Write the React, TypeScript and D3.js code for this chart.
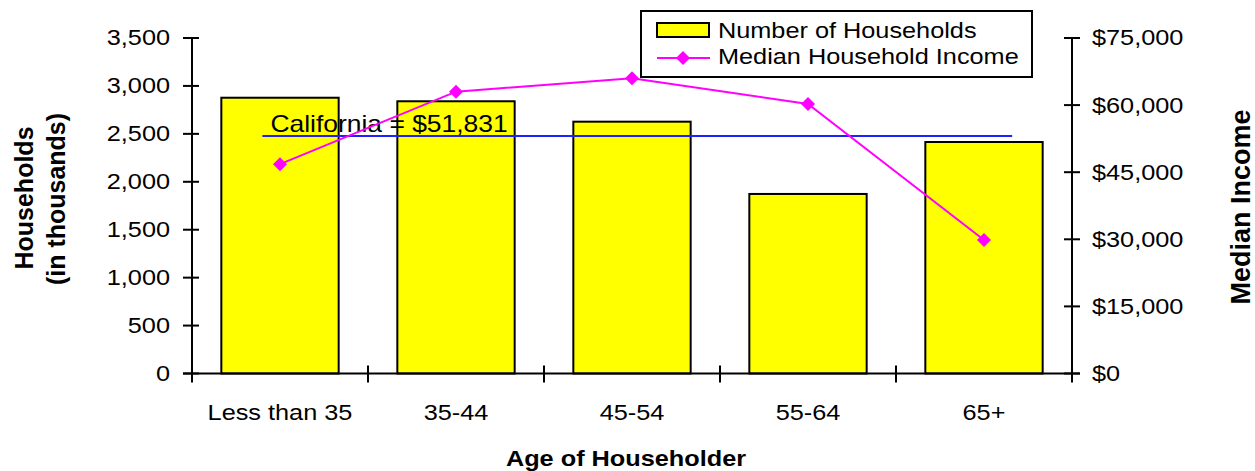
import React from "react";
import * as d3 from "d3";

const categories = ["Less than 35", "35-44", "45-54", "55-64", "65+"];
const households = [2877, 2840, 2627, 1873, 2415];
const medianIncome = [46800, 63000, 66000, 60250, 29850];
const householdTicks = [0, 500, 1000, 1500, 2000, 2500, 3000, 3500];
const incomeTicks = [0, 15000, 30000, 45000, 60000, 75000];
const californiaLevel = 53100;
const californiaLabel = "California = $51,831";
const californiaSpan = [0.4, 4.66];

const W = 1255;
const H = 471;
const M = { left: 192, right: 1072, top: 38, bottom: 373.5 };
const FONT = "'Liberation Sans', Arial, sans-serif";
const SX = 1.15;

function T(props: any) {
  const { x, y, size = 22, anchor = "start", weight = "normal", children, baseline } = props;
  return (
    <text
      transform={`translate(${x},${y}) scale(${SX},1)`}
      textAnchor={anchor}
      fontSize={size}
      fontWeight={weight}
      fontFamily={FONT}
      dominantBaseline={baseline}
      fill="#000"
    >
      {children}
    </text>
  );
}

export default function App() {
  const x = d3.scaleBand<string>().domain(categories).range([M.left, M.right]).padding(0);
  const xIdx = d3.scaleLinear().domain([0, categories.length]).range([M.left, M.right]);
  const yL = d3.scaleLinear().domain([0, 3500]).range([M.bottom, M.top]);
  const yR = d3.scaleLinear().domain([0, 75000]).range([M.bottom, M.top]);
  const bw = x.bandwidth() / 1.5;
  const cx = (c: string) => (x(c) as number) + x.bandwidth() / 2;

  const line = d3
    .line<number>()
    .x((_, i) => cx(categories[i]))
    .y((d) => yR(d));

  const diamond = (px: number, py: number, r = 7) =>
    `M${px},${py - r}L${px + r},${py}L${px},${py + r}L${px - r},${py}Z`;

  const cy = yR(californiaLevel);

  return (
    <svg
      width={W}
      height={H}
      style={{ position: "absolute", left: 0, top: 0, background: "#fff" }}
    >
      {/* bars */}
      {categories.map((c, i) => (
        <rect
          key={c}
          x={cx(c) - bw / 2}
          y={yL(households[i])}
          width={bw}
          height={yL(0) - yL(households[i])}
          fill="#ffff00"
          stroke="#000"
          strokeWidth={2}
        />
      ))}

      {/* California line */}
      <line
        x1={xIdx(californiaSpan[0])}
        x2={xIdx(californiaSpan[1])}
        y1={cy}
        y2={cy}
        stroke="#2020ff"
        strokeWidth={2}
      />
      <T x={xIdx(californiaSpan[0]) + 8} y={cy - 4} size={23}>
        {californiaLabel}
      </T>

      {/* income line */}
      <path d={line(medianIncome) || ""} fill="none" stroke="#ff00ff" strokeWidth={2} />
      {medianIncome.map((v, i) => (
        <path key={i} d={diamond(cx(categories[i]), yR(v))} fill="#ff00ff" />
      ))}

      {/* left axis */}
      <line x1={M.left} x2={M.left} y1={M.top} y2={M.bottom + 8} stroke="#000" strokeWidth={2} />
      {householdTicks.map((t) => (
        <g key={t}>
          <line x1={M.left - 9} x2={M.left + 7} y1={yL(t)} y2={yL(t)} stroke="#000" strokeWidth={2} />
          <T x={M.left - 22} y={yL(t)} anchor="end" baseline="central">
            {d3.format(",")(t)}
          </T>
        </g>
      ))}

      {/* right axis */}
      <line x1={M.right} x2={M.right} y1={M.top} y2={M.bottom + 8} stroke="#000" strokeWidth={2} />
      {incomeTicks.map((t) => (
        <g key={t}>
          <line x1={M.right - 8} x2={M.right + 8} y1={yR(t)} y2={yR(t)} stroke="#000" strokeWidth={2} />
          <T x={M.right + 20} y={yR(t)} anchor="start" baseline="central">
            {"$" + d3.format(",")(t)}
          </T>
        </g>
      ))}

      {/* x axis */}
      <line x1={M.left - 9} x2={M.right + 8} y1={M.bottom} y2={M.bottom} stroke="#000" strokeWidth={2} />
      {d3.range(categories.length + 1).map((i) => (
        <line
          key={i}
          x1={xIdx(i)}
          x2={xIdx(i)}
          y1={M.bottom - 8}
          y2={M.bottom + 9}
          stroke="#000"
          strokeWidth={2}
        />
      ))}
      {categories.map((c) => (
        <T key={c} x={cx(c)} y={420} anchor="middle">
          {c}
        </T>
      ))}

      {/* axis titles */}
      <T x={(M.left + M.right) / 2 - 6} y={466} anchor="middle" weight="bold">
        Age of Householder
      </T>
      <text
        transform={`translate(33,198) rotate(-90)`}
        textAnchor="middle"
        fontSize={25}
        fontWeight="bold"
        fontFamily={FONT}
      >
        Households
      </text>
      <text
        transform={`translate(65,199) rotate(-90)`}
        textAnchor="middle"
        fontSize={25}
        fontWeight="bold"
        fontFamily={FONT}
      >
        (in thousands)
      </text>
      <text
        transform={`translate(1250,207) rotate(-90)`}
        textAnchor="middle"
        fontSize={27}
        fontWeight="bold"
        fontFamily={FONT}
      >
        Median Income
      </text>

      {/* legend */}
      <rect x={641} y={11} width={391} height={66} fill="#fff" stroke="#000" strokeWidth={2} />
      <rect x={657} y={23} width={52} height={14} fill="#ffff00" stroke="#000" strokeWidth={2} />
      <T x={718} y={37.5}>Number of Households</T>
      <line x1={657} x2={710} y1={58} y2={58} stroke="#ff00ff" strokeWidth={2} />
      <path d={diamond(683, 58)} fill="#ff00ff" />
      <T x={718} y={63.5}>Median Household Income</T>
    </svg>
  );
}
